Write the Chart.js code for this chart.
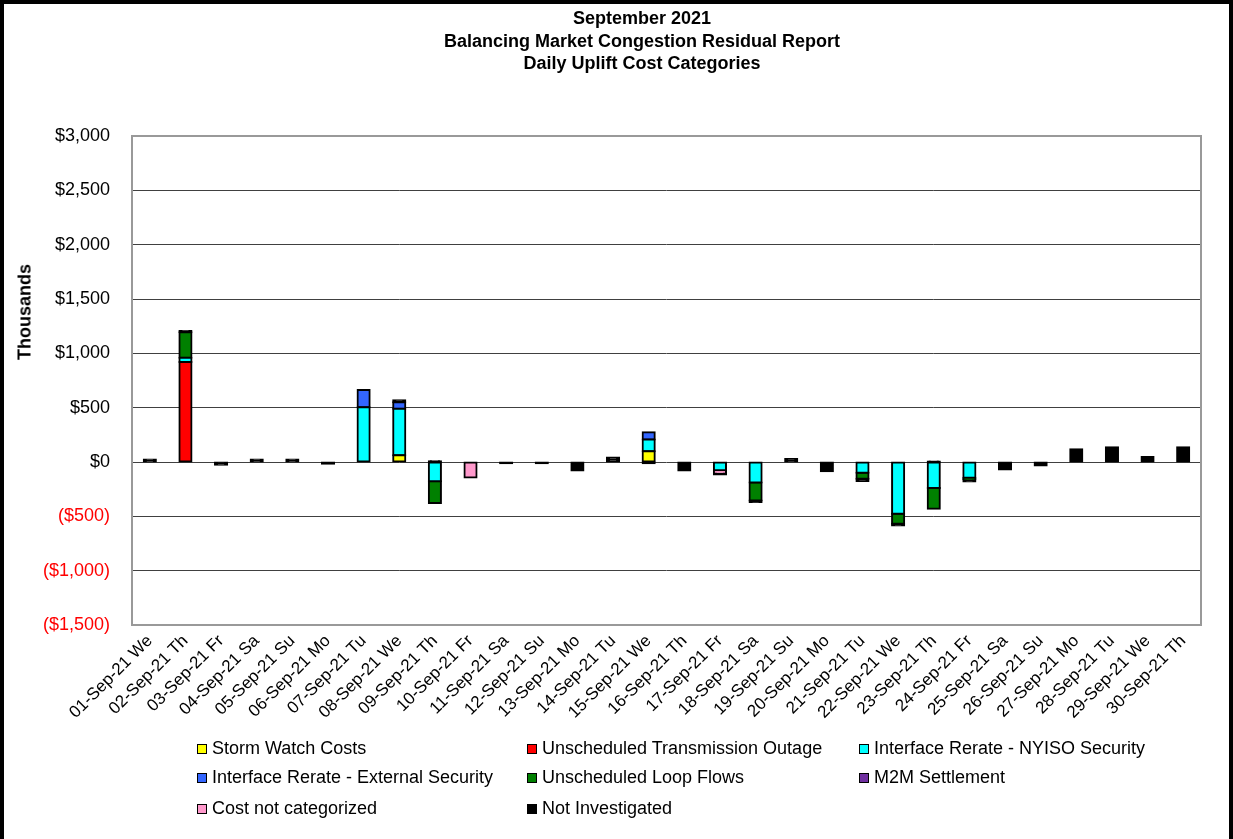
<!DOCTYPE html>
<html>
<head>
<meta charset="utf-8">
<title>Daily Uplift Cost Categories</title>
<script src="https://cdn.jsdelivr.net/npm/chart.js@4.4.0/dist/chart.umd.min.js"></script>
<style>
  html, body { margin: 0; padding: 0; background: #fff; }
  body { width: 1233px; height: 839px; position: relative; overflow: hidden;
         font-family: "Liberation Sans", Arial, sans-serif; color: #000; }
  #frame { position: absolute; left: 0; top: 0; width: 1233px; height: 850px;
           box-sizing: border-box; border: 4px solid #000; }
  #chartBox { position: absolute; left: 0; top: 0; width: 1233px; height: 839px; }
  #header { position: absolute; left: 392px; width: 500px; top: 7px; text-align: center;
            font-weight: bold; font-size: 18px; line-height: 22.5px; }
  #yTitle { position: absolute; left: 25px; top: 312px; font-weight: bold; font-size: 18px;
            transform: translate(-50%, -50%) rotate(-90deg); white-space: nowrap; }
  #legend { position: absolute; left: 0; top: 0; font-size: 18px; }
  .item { position: absolute; white-space: nowrap; line-height: 20px; }
  .item i { display: inline-block; width: 8px; height: 8px; border: 1px solid #000;
            margin-right: 5px; vertical-align: 0px; }
</style>
</head>
<body>
<div id="chartBox"><canvas id="uplift" width="1233" height="839"></canvas></div>
<div id="header">September 2021<br>Balancing Market Congestion Residual Report<br>Daily Uplift Cost Categories</div>
<div id="yTitle">Thousands</div>
<div id="legend"></div>
<div id="frame"></div>
<script>
// days of the month
const days = [
  "01-Sep-21 We", "02-Sep-21 Th", "03-Sep-21 Fr", "04-Sep-21 Sa", "05-Sep-21 Su",
  "06-Sep-21 Mo", "07-Sep-21 Tu", "08-Sep-21 We", "09-Sep-21 Th", "10-Sep-21 Fr",
  "11-Sep-21 Sa", "12-Sep-21 Su", "13-Sep-21 Mo", "14-Sep-21 Tu", "15-Sep-21 We",
  "16-Sep-21 Th", "17-Sep-21 Fr", "18-Sep-21 Sa", "19-Sep-21 Su", "20-Sep-21 Mo",
  "21-Sep-21 Tu", "22-Sep-21 We", "23-Sep-21 Th", "24-Sep-21 Fr", "25-Sep-21 Sa",
  "26-Sep-21 Su", "27-Sep-21 Mo", "28-Sep-21 Tu", "29-Sep-21 We", "30-Sep-21 Th"
];

// $ thousands per category, one value per day (null = nothing booked)
const stormWatch = [null, null, null, null, null, null, null, 62, null, null,
  null, null, null, null, 100, null, null, null, null, null,
  null, null, null, null, null, null, null, null, null, null];
const transOutage = [null, 920, null, null, null, null, null, null, null, null,
  null, null, null, null, null, null, null, null, null, null,
  null, null, null, null, null, null, null, null, null, null];
const nyisoSecurity = [null, 40, null, null, null, null, 503, 428, -178, null,
  null, null, null, null, 108, null, -75, -188, null, null,
  -98, -477, -240, -144, null, null, null, null, null, null];
const externalSecurity = [null, null, null, null, null, null, 160, 59, null, null,
  null, null, null, null, 65, null, null, null, null, null,
  null, null, null, null, null, null, null, null, null, null];
const loopFlows = [null, 235, null, null, null, null, null, null, -200, null,
  null, null, null, null, null, null, null, -166, null, null,
  -55, -92, -190, -15, null, null, null, null, null, null];
const m2mSettlement = [null, null, null, null, null, null, null, null, null, null,
  null, null, null, null, null, null, null, null, null, null,
  null, null, null, null, null, null, null, null, null, null];
const notCategorized = [null, null, null, null, null, null, null, null, null, -142,
  null, null, null, null, null, null, -30, null, null, null,
  null, null, null, null, null, null, null, null, null, null];
const notInvestigated = [22, 10, -25, 22, 22, -15, null, 20, 8, null,
  -12, -12, -78, 42, -12, -78, -10, -15, 28, -85,
  -22, -15, 5, -20, -70, -32, 118, 136, 46, 136];

const yTicks = [-1500, -1000, -500, 0, 500, 1000, 1500, 2000, 2500, 3000];

const series = [
  { label: "Storm Watch Costs", data: stormWatch, color: "#FFFF00" },
  { label: "Unscheduled Transmission Outage", data: transOutage, color: "#FF0000" },
  { label: "Interface Rerate - NYISO Security", data: nyisoSecurity, color: "#00FFFF" },
  { label: "Interface Rerate - External Security", data: externalSecurity, color: "#3366FF" },
  { label: "Unscheduled Loop Flows", data: loopFlows, color: "#008000" },
  { label: "M2M Settlement", data: m2mSettlement, color: "#7030A0" },
  { label: "Cost not categorized", data: notCategorized, color: "#FF99CC" },
  { label: "Not Investigated", data: notInvestigated, color: "#000000" }
];

const money = (v) => {
  const s = "$" + Math.abs(v).toLocaleString("en-US");
  return v < 0 ? "(" + s + ")" : s;
};

// grey frame round the plot area
const plotFrame = {
  id: "plotFrame",
  afterDatasetsDraw(chart) {
    const { ctx, chartArea: a } = chart;
    ctx.save();
    ctx.strokeStyle = "#999999";
    ctx.lineWidth = 2;
    ctx.strokeRect(a.left, a.top, a.right - a.left, a.bottom - a.top);
    ctx.restore();
  }
};

const chart = new Chart(document.getElementById("uplift"), {
  type: "bar",
  data: {
    labels: days,
    datasets: series.map((s) => ({
      label: s.label,
      data: s.data,
      backgroundColor: s.color,
      borderColor: "#000000",
      borderWidth: 2,
      borderSkipped: false,
      inflateAmount: 1,
      barPercentage: 0.34,
      categoryPercentage: 1
    }))
  },
  options: {
    responsive: false,
    animation: false,
    maintainAspectRatio: false,
    layout: { padding: { top: 136, right: 32, bottom: 100, left: 0 } },
    plugins: {
      legend: { display: false },
      title: { display: false },
      tooltip: { enabled: false }
    },
    scales: {
      x: {
        stacked: true,
        grid: { display: false, drawTicks: false },
        border: { display: false },
        afterFit: (scale) => { scale.height = 839 - 625 - 100; },
        ticks: {
          autoSkip: false,
          maxRotation: 45,
          minRotation: 45,
          padding: 6,
          color: "#000",
          font: { family: "'Liberation Sans', Arial, sans-serif", size: 17 }
        }
      },
      y: {
        stacked: true,
        min: -1500,
        max: 3000,
        afterFit: (scale) => { scale.width = 132; },
        afterBuildTicks: (scale) => { scale.ticks = yTicks.map((v) => ({ value: v })); },
        grid: { color: "#404040", lineWidth: 1, drawTicks: false },
        border: { display: false },
        ticks: {
          padding: 22,
          color: (ctx) => (ctx.tick.value < 0 ? "#FF0000" : "#000000"),
          font: { family: "'Liberation Sans', Arial, sans-serif", size: 18 },
          callback: (v) => money(v)
        }
      }
    }
  },
  plugins: [plotFrame]
});

// legend in three columns under the chart
const legendCols = [197, 527, 859];
const legendRows = [748, 777, 808];
const legend = document.getElementById("legend");
chart.data.datasets.forEach((ds, i) => {
  const el = document.createElement("div");
  el.className = "item";
  el.style.left = legendCols[i % 3] + "px";
  el.style.top = (legendRows[Math.floor(i / 3)] - 10) + "px";
  el.innerHTML = '<i style="background:' + ds.backgroundColor + '"></i>' + ds.label;
  legend.appendChild(el);
});
</script>
</body>
</html>
